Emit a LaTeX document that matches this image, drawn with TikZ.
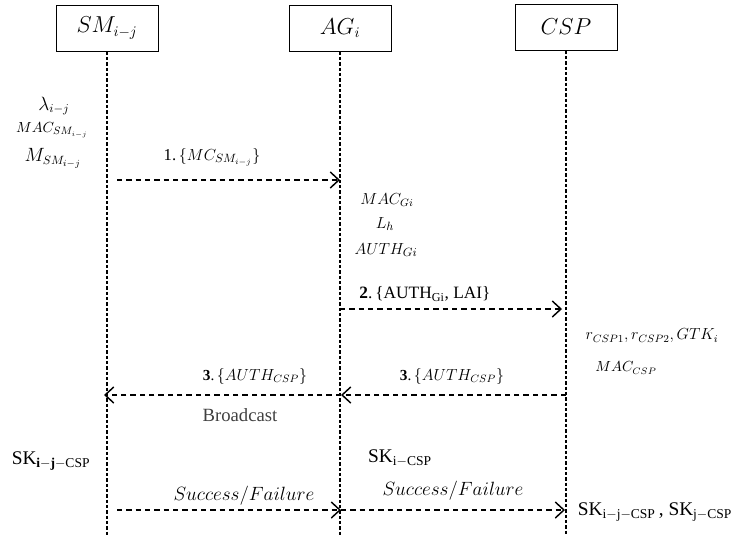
\documentclass[tikz,border=0pt]{standalone}
\usepackage{fontspec}
\setmainfont{Liberation Serif}
\usetikzlibrary{arrows.meta}

\tikzset{every picture/.style={line width=0.75pt}}

\begin{document}
\begin{tikzpicture}[x=0.75pt,y=0.75pt,yscale=-1,xscale=1,
  party/.style={draw, fill=white, minimum width=76.5pt, minimum height=34.5pt, inner sep=0pt, font=\fontsize{16}{19}\selectfont},
  lifeline/.style={line width=1pt, dash pattern=on 2.5pt off 1.5pt},
  msg/.style={line width=1.1pt, dash pattern=on 4pt off 3pt, -{Straight Barb[length=6.5pt,width=12pt,line width=1.1pt]}},
  txt/.style={inner sep=1pt, font=\fontsize{12.5}{15}\selectfont},
  small/.style={inner sep=1pt, font=\fontsize{10.5}{13}\selectfont},
  key/.style={inner sep=1pt, font=\fontsize{14.5}{17}\selectfont}]
        \useasboundingbox (0,0) rectangle (734,540);

        %Parties
        \node[party] (sm) at (107,28) {$SM_{i-j}$};
        \node[party] (ag) at (340,28) {$AG_i$};
        \node[party] (csp) at (566,27) {$CSP$};

        %Lifelines
        \coordinate (smEnd) at (107,535);
        \coordinate (agEnd) at (340,535);
        \coordinate (cspEnd) at (566,535);
        \draw[lifeline] (sm) -- (smEnd);
        \draw[lifeline] (ag) -- (agEnd);
        \draw[lifeline] (csp) -- (cspEnd);

        %Smart meter computations
        \node[txt, font=\fontsize{13.5}{16}\selectfont] (lam) at (54,106) {$\lambda_{i-j}$};
        \node[small, font=\fontsize{11}{13}\selectfont] (macSM) at (52,130) {$MAC_{SM_{i-j}}$};
        \node[txt, font=\fontsize{13.5}{16}\selectfont] (mSM) at (53,158) {$M_{SM_{i-j}}$};

        %Message 1
        \coordinate (m1s) at (117,180);
        \coordinate (m1e) at (340,180);
        \draw[msg] (m1s) -- (m1e);
        \node[txt] (l1) at (212,157) {1.\,$\{MC_{SM_{i-j}}\}$};

        %Aggregator computations
        \node[txt, font=\fontsize{12}{14}\selectfont] (macG) at (387,200) {$MAC_{Gi}$};
        \node[txt, font=\fontsize{12.5}{14}\selectfont] (lh) at (385,224) {$L_h$};
        \node[txt, font=\fontsize{12.5}{14}\selectfont] (authG) at (386,250) {$AUTH_{Gi}$};

        %Message 2
        \coordinate (m2s) at (340,309);
        \coordinate (m2e) at (562,309);
        \draw[msg] (m2s) -- (m2e);
        \node[txt, font=\fontsize{13}{15}\selectfont] (l2) at (425,294) {\textbf{2}.\,\{AUTH$_{\mathrm{Gi}}$, LAI\}};

        %CSP computations
        \node[txt, font=\fontsize{11.8}{14}\selectfont] (rcsp) at (652,336) {$r_{CSP1}, r_{CSP2}, GTK_i$};
        \node[small] (macC) at (626,368) {$MAC_{CSP}$};

        %Message 3
        \coordinate (m3a) at (566,395);
        \coordinate (m3b) at (341,395);
        \coordinate (m3c) at (104,395);
        \draw[msg] (m3a) -- (m3b);
        \draw[msg] (m3b) -- (m3c);
        \node[txt, font=\fontsize{11.5}{13}\selectfont] (l3r) at (452,376) {\textbf{3}.\,$\{AUTH_{CSP}\}$};
        \node[txt, font=\fontsize{11.5}{13}\selectfont] (l3l) at (255,376) {\textbf{3}.\,$\{AUTH_{CSP}\}$};
        \node[txt, font=\fontsize{14}{16}\selectfont, text=black!75] (bc) at (240,415) {Broadcast};

        %Session keys
        \node[key] (skSM) at (51,461) {SK$_{\mathbf{i-j-}\mathrm{CSP}}$};
        \node[key] (skAG) at (400,458) {SK$_{\mathrm{i-CSP}}$};

        %Message 4
        \coordinate (m4s) at (117,510);
        \coordinate (m4m) at (341,510);
        \coordinate (m4e) at (565,510);
        \draw[msg] (m4s) -- (m4m);
        \draw[msg] (m4m) -- (m4e);
        \node[txt, font=\fontsize{14}{16}\selectfont] (l4l) at (244,496) {$Success/Failure$};
        \node[txt, font=\fontsize{14}{16}\selectfont] (l4r) at (453,491) {$Success/Failure$};
        \node[key] (skC) at (655,512) {SK$_{\mathrm{i-j-CSP}}$\,, SK$_{\mathrm{j-CSP}}$};

        \end{tikzpicture}
\end{document}
